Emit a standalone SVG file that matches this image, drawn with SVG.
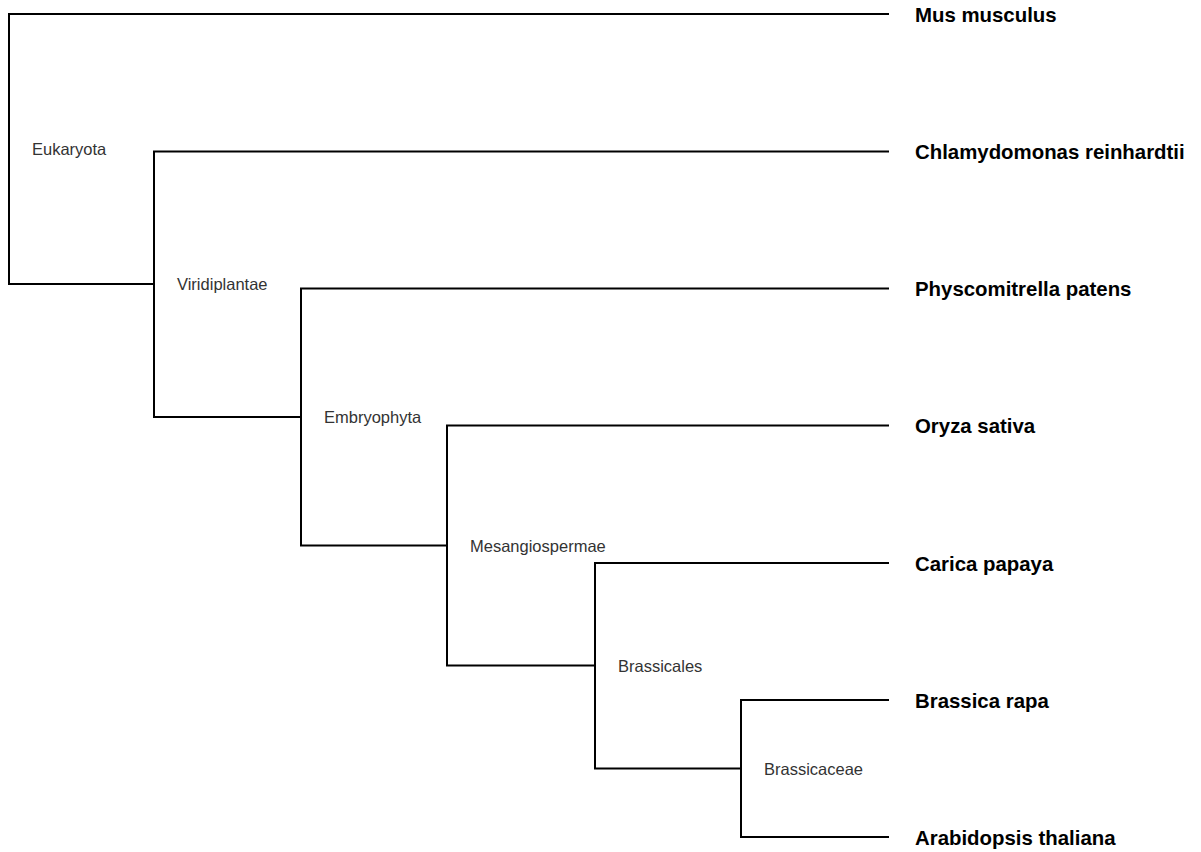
<svg xmlns="http://www.w3.org/2000/svg" width="1201" height="852" viewBox="0 0 1201 852">
  <style>
    .edge { fill: none; stroke: #000; stroke-width: 2; stroke-linecap: square; }
    .clade { font-family: "Liberation Sans", Arial, sans-serif; font-size: 16.5px; fill: #333; }
    .leaf { font-family: "Liberation Sans", Arial, sans-serif; font-size: 20.4px; font-weight: bold; fill: #000; }
  </style>
  <rect width="1201" height="852" fill="#fff"/>
  <g id="connectors">
    <path class="edge" d="M888 14 H9 V284 H154"/>
    <path class="edge" d="M888 151.5 H154 V417 H301"/>
    <path class="edge" d="M888 288.5 H301 V545.5 H447"/>
    <path class="edge" d="M888 425.5 H447 V665.5 H595"/>
    <path class="edge" d="M888 563 H595 V768.5 H741"/>
    <path class="edge" d="M888 700 H741 V837 H888"/>
  </g>
  <g id="Eukaryota"><text class="clade" x="32" y="155">Eukaryota</text></g>
  <g id="Viridiplantae"><text class="clade" x="177" y="290">Viridiplantae</text></g>
  <g id="Embryophyta"><text class="clade" x="324" y="423">Embryophyta</text></g>
  <g id="Mesangiospermae"><text class="clade" x="470" y="551.5">Mesangiospermae</text></g>
  <g id="Brassicales"><text class="clade" x="618" y="671.5">Brassicales</text></g>
  <g id="Brassicaceae"><text class="clade" x="764" y="774.5">Brassicaceae</text></g>
  <g id="Mus_musculus"><text class="leaf" x="915" y="21.5">Mus musculus</text></g>
  <g id="Chlamydomonas_reinhardtii"><text class="leaf" x="915" y="159">Chlamydomonas reinhardtii</text></g>
  <g id="Physcomitrella_patens"><text class="leaf" x="915" y="296">Physcomitrella patens</text></g>
  <g id="Oryza_sativa"><text class="leaf" x="915" y="433">Oryza sativa</text></g>
  <g id="Carica_papaya"><text class="leaf" x="915" y="570.5">Carica papaya</text></g>
  <g id="Brassica_rapa"><text class="leaf" x="915" y="707.5">Brassica rapa</text></g>
  <g id="Arabidopsis_thaliana"><text class="leaf" x="915" y="844.5">Arabidopsis thaliana</text></g>
</svg>
